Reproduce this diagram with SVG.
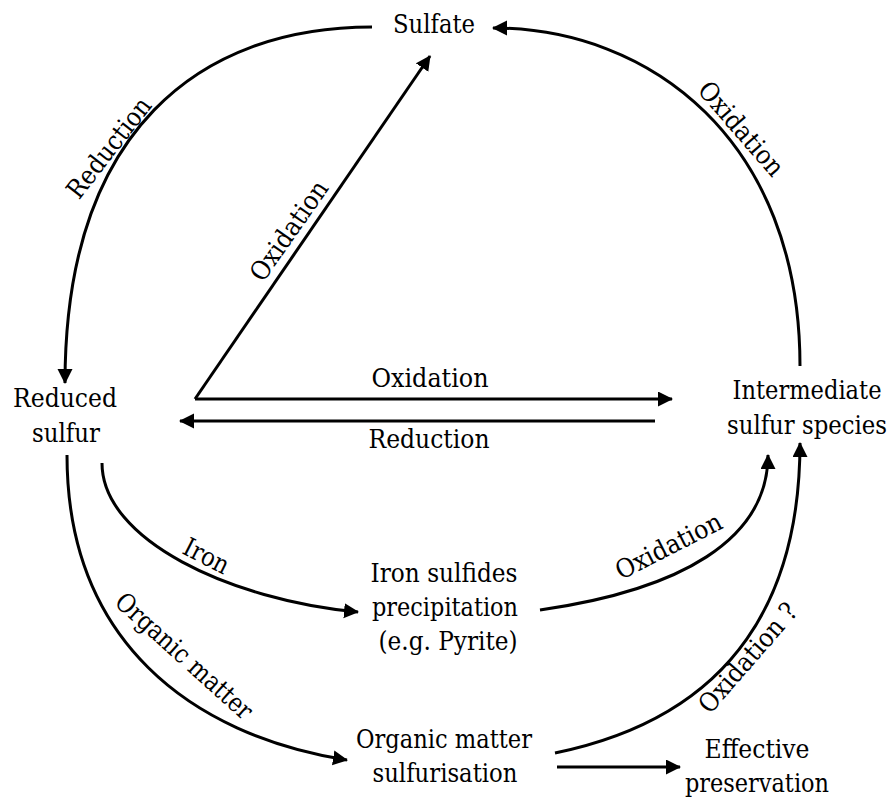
<svg xmlns="http://www.w3.org/2000/svg" width="892" height="801" viewBox="0 0 892 801">
<defs>
<marker id="arr" markerUnits="userSpaceOnUse" markerWidth="16" markerHeight="16" refX="14" refY="7.5" orient="auto">
<path d="M0,0 L15,7.5 L0,15 z" fill="#000"/>
</marker>
<style>
text{font-family:"DejaVu Serif",serif;font-stretch:condensed;font-size:26px;fill:#000;text-anchor:middle}
.c{fill:none;stroke:#000;stroke-width:3;marker-end:url(#arr)}
</style>
</defs>
<rect width="892" height="801" fill="#fff"/>
<g id="connectors">
<path class="c" d="M372,27 C200,27 65,130 65,383"/>
<path class="c" d="M800,366 C800,140 650,28 493,28"/>
<path class="c" d="M195,399 L430,56"/>
<path class="c" d="M195,399 L672,399"/>
<path class="c" d="M655,421 L180,421"/>
<path class="c" d="M102,463 C102,540 230,600 358,612"/>
<path class="c" d="M67,455 C67,640 190,735 347,760"/>
<path class="c" d="M540,610 C680,590 768,540 768,455"/>
<path class="c" d="M555,753 C740,715 800,590 800,443"/>
<path class="c" d="M557,767 L680,767"/>
<text transform="translate(108,147) rotate(-52)" y="10" textLength="120" lengthAdjust="spacingAndGlyphs">Reduction</text>
<text transform="translate(288,230) rotate(-55)" y="10" textLength="116" lengthAdjust="spacingAndGlyphs">Oxidation</text>
<text transform="translate(742,128) rotate(49)" y="10" textLength="116" lengthAdjust="spacingAndGlyphs">Oxidation</text>
<text x="430" y="387" textLength="117" lengthAdjust="spacingAndGlyphs">Oxidation</text>
<text x="429" y="448" textLength="121" lengthAdjust="spacingAndGlyphs">Reduction</text>
<text transform="translate(207,555) rotate(27)" y="10" textLength="48" lengthAdjust="spacingAndGlyphs">Iron</text>
<text transform="translate(185,655) rotate(42)" y="10" textLength="175" lengthAdjust="spacingAndGlyphs">Organic matter</text>
<text transform="translate(668,545) rotate(-27)" y="10" textLength="116" lengthAdjust="spacingAndGlyphs">Oxidation</text>
<text transform="translate(747,657) rotate(-49)" y="10" textLength="136" lengthAdjust="spacingAndGlyphs">Oxidation ?</text>
</g>
<g id="sulfate"><text x="434" y="33" textLength="82" lengthAdjust="spacingAndGlyphs">Sulfate</text></g>
<g id="reduced-sulfur"><text x="65" y="407" textLength="104" lengthAdjust="spacingAndGlyphs">Reduced</text><text x="66" y="442" textLength="68" lengthAdjust="spacingAndGlyphs">sulfur</text></g>
<g id="intermediate"><text x="807" y="399" textLength="149" lengthAdjust="spacingAndGlyphs">Intermediate</text><text x="807" y="434" textLength="160" lengthAdjust="spacingAndGlyphs">sulfur species</text></g>
<g id="iron-sulfides"><text x="444" y="582" textLength="147" lengthAdjust="spacingAndGlyphs">Iron sulfides</text><text x="445" y="616" textLength="146" lengthAdjust="spacingAndGlyphs">precipitation</text><text x="448" y="650" textLength="139" lengthAdjust="spacingAndGlyphs">(e.g. Pyrite)</text></g>
<g id="organic-matter"><text x="444" y="748" textLength="176" lengthAdjust="spacingAndGlyphs">Organic matter</text><text x="445" y="782" textLength="145" lengthAdjust="spacingAndGlyphs">sulfurisation</text></g>
<g id="effective"><text x="757" y="758" textLength="105" lengthAdjust="spacingAndGlyphs">Effective</text><text x="757" y="792" textLength="144" lengthAdjust="spacingAndGlyphs">preservation</text></g>
</svg>
